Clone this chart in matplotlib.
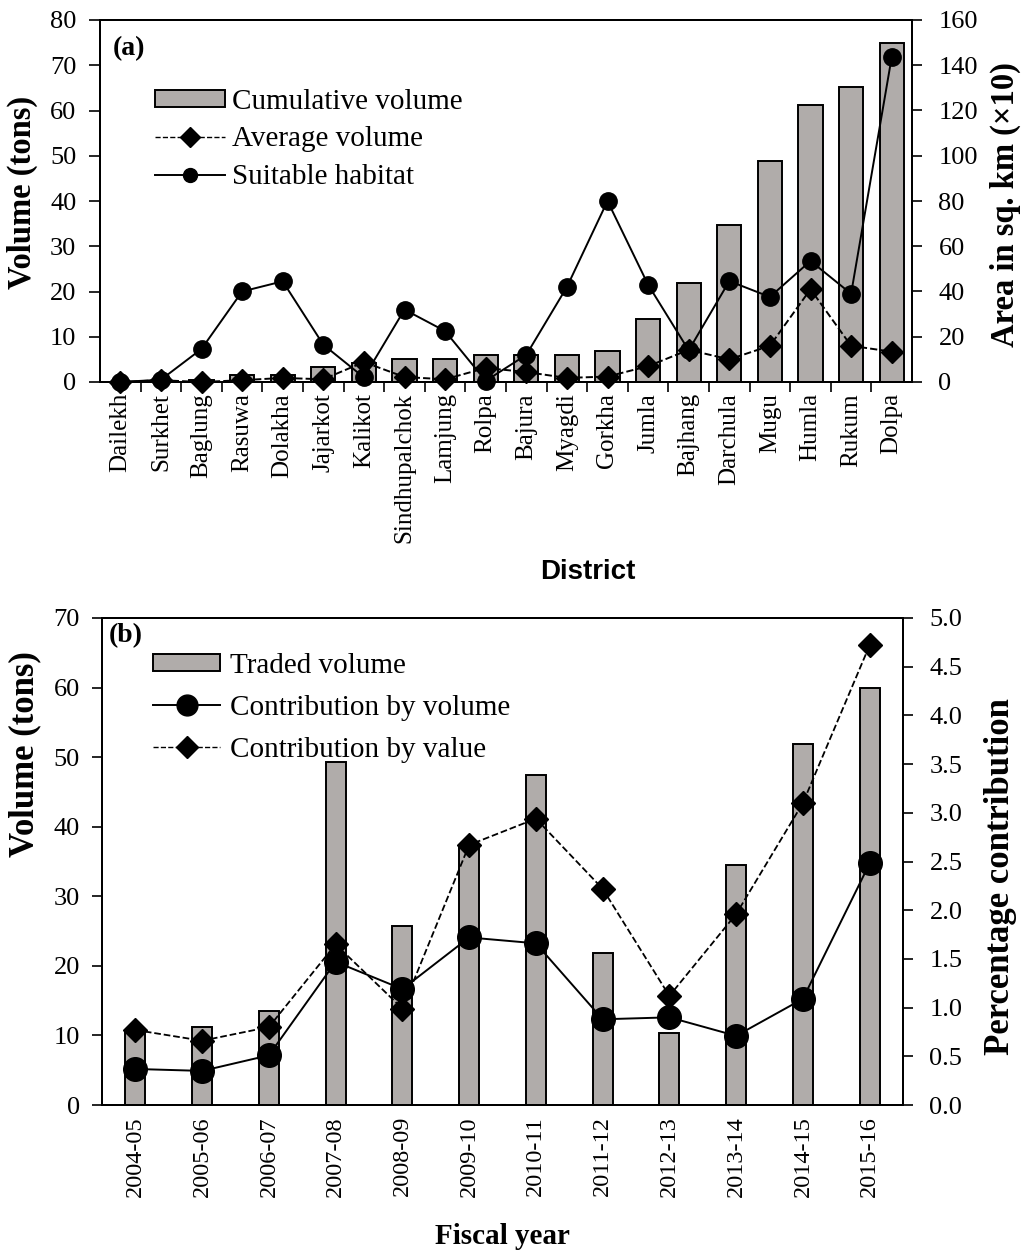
import matplotlib
matplotlib.use("Agg")
import matplotlib.pyplot as plt
from matplotlib.lines import Line2D
from matplotlib.patches import Patch
import numpy as np

plt.rcParams['font.family'] = ['Liberation Serif', 'DejaVu Serif']

# ---------------- Panel (a) data ----------------
districts = ["Dailekh", "Surkhet", "Baglung", "Rasuwa", "Dolakha", "Jajarkot",
             "Kalikot", "Sindhupalchok", "Lamjung", "Rolpa", "Bajura", "Myagdi",
             "Gorkha", "Jumla", "Bajhang", "Darchula", "Mugu", "Humla", "Rukum", "Dolpa"]
cumulative_volume = [0.1, 0.3, 0.5, 1.5, 1.5, 3.4, 4.2, 5.1, 5.1, 6.0, 6.0, 6.0,
                     6.9, 13.9, 21.9, 34.7, 48.8, 61.2, 65.2, 74.9]
average_volume = [0.0, 0.4, 0.0, 0.4, 0.9, 0.6, 4.4, 1.1, 0.6, 3.1, 2.2, 0.9,
                  1.2, 3.5, 7.1, 5.0, 8.0, 20.5, 8.0, 6.7]
suitable_habitat = [0.0, 1.0, 14.6, 40.0, 44.5, 16.5, 2.0, 32.0, 22.5, 0.5, 12.0, 42.0,
                    80.0, 43.0, 14.0, 44.6, 37.6, 53.5, 39.0, 143.6]

# ---------------- Panel (b) data ----------------
fiscal_years = ["2004-05", "2005-06", "2006-07", "2007-08", "2008-09", "2009-10",
                "2010-11", "2011-12", "2012-13", "2013-14", "2014-15", "2015-16"]
traded_volume = [10.6, 11.2, 13.5, 49.3, 25.8, 37.2, 47.4, 21.9, 10.3, 34.5, 51.9, 60.0]
contrib_volume = [0.37, 0.35, 0.51, 1.47, 1.19, 1.72, 1.66, 0.88, 0.90, 0.71, 1.09, 2.48]
contrib_value = [0.77, 0.66, 0.80, 1.65, 0.99, 2.67, 2.94, 2.22, 1.12, 1.96, 3.10, 4.72]

bar_color = '#b0acaa'
W, H = 1024, 1257
fig = plt.figure(figsize=(W / 100, H / 100), dpi=100)

def box(l, t, r, b):
    return [l / W, 1 - b / H, (r - l) / W, (b - t) / H]

tick_fs = 19
lw = 1.4

# ================= Panel (a) =================
ax1 = fig.add_axes(box(100, 20, 912, 382))
ax1r = ax1.twinx()
x = np.arange(len(districts))
ax1.bar(x, cumulative_volume, width=0.6, color=bar_color, edgecolor='black', linewidth=lw)
ax1r.plot(x, suitable_habitat, linestyle='-', color='black', linewidth=lw,
          marker='o', markersize=12.5, zorder=3, clip_on=False)
ax1r.plot(x, average_volume, linestyle='--', color='black', linewidth=lw,
          marker='D', markersize=11.5, zorder=4, transform=ax1.transData, clip_on=False)

ax1.set_xlim(-0.5, len(districts) - 0.5)
ax1.set_ylim(0, 80)
ax1.set_yticks(np.arange(0, 81, 10))
ax1.set_xticks(x)
ax1.set_xticklabels(districts, rotation=90, fontsize=18)
ax1.tick_params(axis='x', which='major', length=0, pad=8)
ax1.set_xticks(np.arange(-0.5, len(districts), 1)[1:-1], minor=True)
ax1.tick_params(axis='x', which='minor', length=7, width=1.2, direction='out')
ax1.tick_params(axis='y', labelsize=tick_fs, length=8, width=1.2, direction='out', pad=9)
ax1.set_ylabel('Volume (tons)', fontsize=23.5, fontweight='bold', va='center')
ax1.yaxis.set_label_coords((22 - 100) / 812, 0.525)

ax1r.set_ylim(0, 160)
ax1r.set_yticks(np.arange(0, 161, 20))
ax1r.tick_params(axis='y', labelsize=tick_fs, length=7, width=1.2, direction='out', pad=12)
ax1r.set_ylabel('Area in sq. km (×10)', fontsize=23.5, fontweight='bold', va='center')
ax1r.yaxis.set_label_coords((1005 - 100) / 812, 0.49)
for a in (ax1, ax1r):
    for s in a.spines.values():
        s.set_linewidth(lw)

ax1.text(13 / 812, 1 - 16 / 362, '(a)', transform=ax1.transAxes, fontsize=20,
         fontweight='bold', va='top', ha='left')

handles_a = [Patch(facecolor=bar_color, edgecolor='black', linewidth=lw),
             Line2D([], [], linestyle='--', color='black', linewidth=1.0, marker='D', markersize=10),
             Line2D([], [], linestyle='-', color='black', linewidth=lw, marker='o', markersize=10)]
ax1r.legend(handles_a, ['Cumulative volume', 'Average volume', 'Suitable habitat'],
            loc='upper left', bbox_to_anchor=(0.0677, 0.81), frameon=False, fontsize=21,
            handlelength=2.4, handleheight=0.5, handletextpad=0.25, labelspacing=0.4,
            borderpad=0, borderaxespad=0, numpoints=1)

fig.text(588 / W, 1 - 572 / H, 'District', family='Liberation Sans', fontsize=20,
         fontweight='bold', ha='center', va='center')

# ================= Panel (b) =================
ax2 = fig.add_axes(box(102, 618, 903, 1105))
ax2r = ax2.twinx()
xb = np.arange(len(fiscal_years))
ax2.bar(xb, traded_volume, width=0.3, color=bar_color, edgecolor='black', linewidth=lw)
ax2r.plot(xb, contrib_volume, linestyle='-', color='black', linewidth=lw,
          marker='o', markersize=17, zorder=3)
ax2r.plot(xb, contrib_value, linestyle='--', color='black', linewidth=1.3,
          marker='D', markersize=12, zorder=4)

ax2.set_xlim(-0.5, len(fiscal_years) - 0.5)
ax2.set_ylim(0, 70)
ax2.set_yticks(np.arange(0, 71, 10))
ax2.set_xticks(xb)
ax2.set_xticklabels(fiscal_years, rotation=90, fontsize=17.5)
ax2.tick_params(axis='x', length=0, pad=8)
ax2.tick_params(axis='y', labelsize=tick_fs, length=7, width=1.2, direction='out', pad=9)
ax2.set_ylabel('Volume (tons)', fontsize=25, fontweight='bold', va='center')
ax2.yaxis.set_label_coords((25 - 102) / 801, 0.72)
ax2.set_xlabel('Fiscal year', fontsize=21, fontweight='bold', va='center')
ax2.xaxis.set_label_coords(0.5, (1105 - 1237) / 487)

ax2r.set_ylim(0, 5.0)
ax2r.set_yticks(np.arange(0, 5.01, 0.5))
ax2r.set_yticklabels([f'{v:.1f}' for v in np.arange(0, 5.01, 0.5)])
ax2r.tick_params(axis='y', labelsize=tick_fs, length=7, width=1.2, direction='out', pad=12)
ax2r.set_ylabel('Percentage contribution', fontsize=25, fontweight='bold', va='center')
ax2r.yaxis.set_label_coords((1000 - 102) / 801, 0.47)
for a in (ax2, ax2r):
    for s in a.spines.values():
        s.set_linewidth(lw)

ax2.text(7 / 801, 1 - 5 / 487, '(b)', transform=ax2.transAxes, fontsize=20,
         fontweight='bold', va='top', ha='left')

handles_b = [Patch(facecolor=bar_color, edgecolor='black', linewidth=lw),
             Line2D([], [], linestyle='-', color='black', linewidth=lw, marker='o', markersize=15),
             Line2D([], [], linestyle='--', color='black', linewidth=1.0, marker='D', markersize=11)]
ax2r.legend(handles_b, ['Traded volume', 'Contribution by volume', 'Contribution by value'],
            loc='upper left', bbox_to_anchor=(0.0637, 0.929), frameon=False, fontsize=21,
            handlelength=2.3, handleheight=0.5, handletextpad=0.34, labelspacing=0.55,
            borderpad=0, borderaxespad=0, numpoints=1)

fig.savefig('out.png', dpi=100)
